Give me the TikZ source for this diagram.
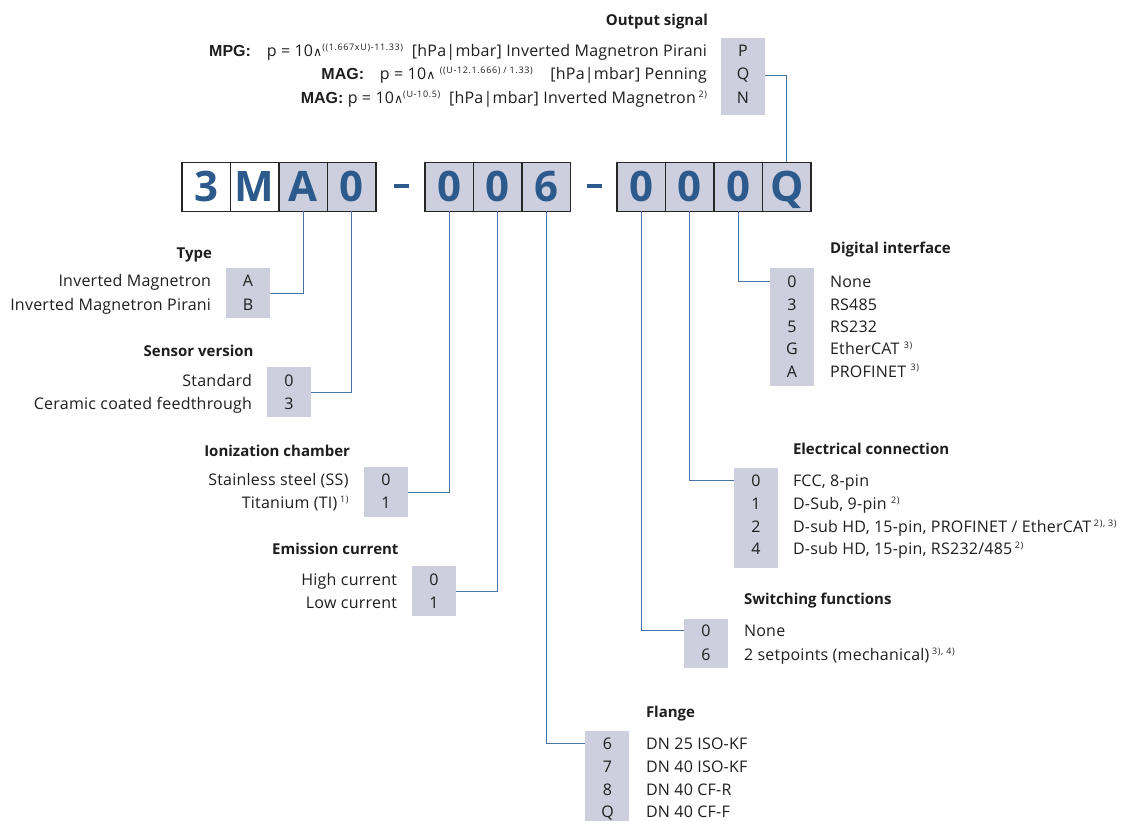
\documentclass[tikz,border=0pt]{standalone}
\usepackage{fontspec}
\setmainfont{Open Sans}
\newfontfamily\regfont{Open Sans}[LetterSpace=1.5]
\newfontfamily\supfont{Open Sans}[LetterSpace=7]
\newfontfamily\symfont{DejaVu Sans}
\newfontfamily\lblbold{Liberation Sans}
\definecolor{boxfill}{RGB}{205,207,222}
\definecolor{codeblue}{RGB}{44,90,140}
\definecolor{linkblue}{RGB}{72,114,163}
\definecolor{txt}{RGB}{30,30,30}
\newcommand{\fnote}[1]{\raisebox{0.75ex}{\supfont\fontsize{9}{10}\selectfont #1}}
\newcommand{\caret}{{\symfont\fontsize{12.5}{16}\selectfont ∧}}
\newcommand{\kw}[1]{{\lblbold\bfseries\fontsize{16}{19}\selectfont #1}}
\begin{document}
\begin{tikzpicture}[x=1pt,y=-1pt,
  every node/.style={inner sep=0pt, outer sep=0pt, text=txt, font=\regfont\fontsize{16}{19}\selectfont},
  codebox/.style={draw=black!85, line width=1.6pt, minimum width=48.5pt, minimum height=49pt,
    font=\normalfont\fontsize{42}{42}\selectfont\bfseries, text=codeblue, fill=boxfill, text height=30pt, text depth=0pt},
  optbox/.style={fill=boxfill, minimum width=44pt, anchor=north west},
  lbl/.style={anchor=base},
  lbr/.style={anchor=base east},
  lbw/.style={anchor=base west},
  ttl/.style={font=\normalfont\fontsize{15}{18}\selectfont\bfseries},
  conn/.style={draw=linkblue, line width=1pt},
  dashbar/.style={fill=codeblue, minimum width=15pt, minimum height=4pt},
]
\useasboundingbox (0,0) rectangle (1146,821);

% ---- code boxes
\node[codebox, fill=white] (c1) at (206.25,187) {3};
\node[codebox, fill=white] (c2) at (254.75,187) {M};
\node[codebox] (c3) at (303.25,187) {A};
\node[codebox] (c4) at (351.75,187) {0};
\node[dashbar] (d1) at (401,186) {};
\node[codebox] (c5) at (449.25,187) {0};
\node[codebox] (c6) at (497.75,187) {0};
\node[codebox] (c7) at (546.25,187) {6};
\node[dashbar] (d2) at (594,186) {};
\node[codebox] (c8) at (641.25,187) {0};
\node[codebox] (c9) at (689.75,187) {0};
\node[codebox] (c10) at (738.25,187) {0};
\node[codebox] (c11) at (786.75,187) {Q};

% ---- output signal
\node[ttl, anchor=base east] (tout) at (708,26) {Output signal};
\node[optbox, minimum height=77pt] (outbox) at (721,38) {};
\node[lbl] (oP) at (743,56.5) {P};
\node[lbl] (oQ) at (743,80) {Q};
\node[lbl] (oN) at (743,103.5) {N};
\node[lbr] (f1) at (707,56.5) {\kw{MPG:}\ \ \ \,p = 10\caret\fnote{((1.667xU)-11.33)}\ \ [hPa|mbar] Inverted Magnetron Pirani};
\node[lbr] (f2) at (707,80) {\kw{MAG:}\ \ \ \,p = 10\caret\ \fnote{((U-12.1.666) / 1.33)}\ \ \ \ [hPa|mbar] Penning};
\node[lbr] (f3) at (707,103.5) {\kw{MAG:}\ p = 10\caret\fnote{(U-10.5)}\ \ [hPa|mbar] Inverted Magnetron\,\fnote{2)}};

% ---- type
\node[ttl, lbr] (ttype) at (212,258.5) {Type};
\node[optbox, minimum height=50pt] (typebox) at (226,268) {};
\node[lbl] (tA) at (248,287) {A};
\node[lbl] (tB) at (248,310.5) {B};
\node[lbr] at (211,287) {Inverted Magnetron};
\node[lbr] at (211,310.5) {Inverted Magnetron Pirani};

% ---- sensor version
\node[ttl, lbr] (tsens) at (253.5,356) {Sensor version};
\node[optbox, minimum height=50pt] (sensbox) at (267,367) {};
\node[lbl] (s0) at (289,386.5) {0};
\node[lbl] (s3) at (289,409.5) {3};
\node[lbr] at (252,386.5) {Standard};
\node[lbr] at (252,409.5) {Ceramic coated feedthrough};

% ---- ionization chamber
\node[ttl, lbr] (tion) at (350,456) {Ionization chamber};
\node[optbox, minimum height=50pt] (ionbox) at (364,467) {};
\node[lbl] (i0) at (386,485.5) {0};
\node[lbl] (i1) at (386,508.5) {1};
\node[lbr] at (348.5,485.5) {Stainless steel (SS)};
\node[lbr] at (348.5,508.5) {Titanium (TI)\,\fnote{1)}};

% ---- emission current
\node[ttl, lbr] (temi) at (398.5,554) {Emission current};
\node[optbox, minimum height=50pt] (emibox) at (412,566) {};
\node[lbl] (e0) at (434,585.5) {0};
\node[lbl] (e1) at (434,608.5) {1};
\node[lbr] at (397,585.5) {High current};
\node[lbr] at (397,608.5) {Low current};

% ---- digital interface
\node[ttl, lbw] (tdig) at (830,253.5) {Digital interface};
\node[optbox, minimum height=118pt] (dibox) at (770,268) {};
\node[lbl] (di0) at (792,287.5) {0};
\node[lbl] (di3) at (792,310.5) {3};
\node[lbl] (di5) at (792,332.5) {5};
\node[lbl] (diG) at (792,354.5) {G};
\node[lbl] (diA) at (792,377) {A};
\node[lbw] at (830,287.5) {None};
\node[lbw] at (830,310.5) {RS485};
\node[lbw] at (830,332.5) {RS232};
\node[lbw] at (830,354.5) {EtherCAT \fnote{3)}};
\node[lbw] at (830,377) {PROFINET \fnote{3)}};

% ---- electrical connection
\node[ttl, lbw] (tel) at (793,454) {Electrical connection};
\node[optbox, minimum height=100pt] (elbox) at (734,468) {};
\node[lbl] (el0) at (756,486.5) {0};
\node[lbl] (el1) at (756,509.5) {1};
\node[lbl] (el2) at (756,532.5) {2};
\node[lbl] (el4) at (756,554.5) {4};
\node[lbw] at (793,486.5) {FCC, 8-pin};
\node[lbw] at (793,509.5) {D-Sub, 9-pin \fnote{2)}};
\node[lbw] at (793,532.5) {D-sub HD, 15-pin, PROFINET / EtherCAT\,\fnote{2), 3)}};
\node[lbw] at (793,554.5) {D-sub HD, 15-pin, RS232/485\,\fnote{2)}};

% ---- switching functions
\node[ttl, lbw] (tsw) at (744,604.5) {Switching functions};
\node[optbox, minimum height=49pt] (swbox) at (684,619) {};
\node[lbl] (sw0) at (706,636.5) {0};
\node[lbl] (sw6) at (706,660.5) {6};
\node[lbw] at (744,636.5) {None};
\node[lbw] at (744,660.5) {2 setpoints (mechanical)\,\fnote{3), 4)}};

% ---- flange
\node[ttl, lbw] (tfl) at (646,717.5) {Flange};
\node[optbox, minimum height=95pt] (flbox) at (585,731) {};
\node[lbl] (fl6) at (607.5,749.5) {6};
\node[lbl] (fl7) at (607.5,772.5) {7};
\node[lbl] (fl8) at (607.5,795.5) {8};
\node[lbl] (flQ) at (607.5,817.5) {Q};
\node[lbw] at (646,749.5) {DN 25 ISO-KF};
\node[lbw] at (646,772.5) {DN 40 ISO-KF};
\node[lbw] at (646,795.5) {DN 40 CF-R};
\node[lbw] at (646,817.5) {DN 40 CF-F};

% ---- connectors
\draw[conn] (c3.south) |- (typebox.east);
\draw[conn] (c4.south) |- (sensbox.east);
\draw[conn] (c5.south) |- (ionbox.east);
\draw[conn] (c6.south) |- (emibox.east);
\draw[conn] (c7.south) |- (flbox.west |- fl6);
\draw[conn] (c8.south) |- (swbox.west |- sw0);
\draw[conn] (c9.south) |- (elbox.west |- el0);
\draw[conn] (c10.south) |- (dibox.west |- di0);
\draw[conn] (c11.north) |- (outbox.east |- oQ);
\end{tikzpicture}
\end{document}
